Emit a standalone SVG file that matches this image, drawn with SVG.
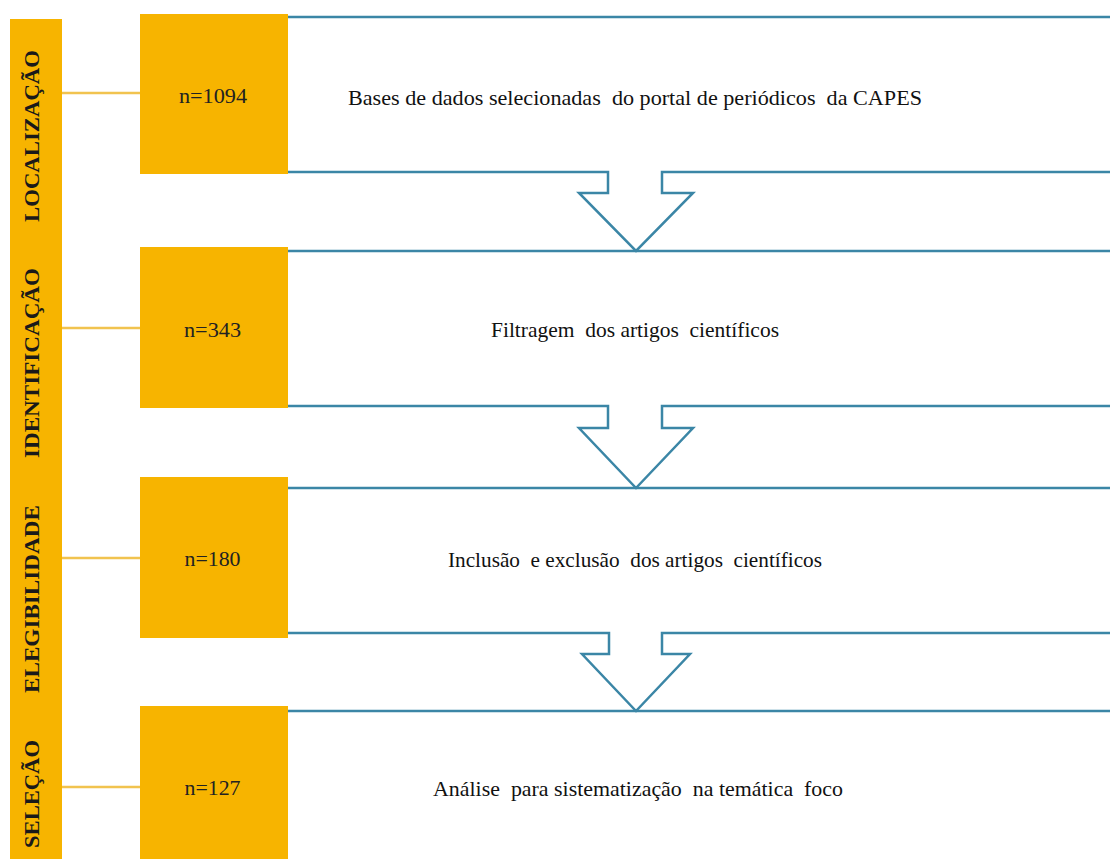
<svg xmlns="http://www.w3.org/2000/svg" width="1110" height="859" viewBox="0 0 1110 859">
<style>
.bar{fill:#F7B400}
.box{fill:#F7B400}
.link{stroke:#F1C34F;stroke-width:2.5;fill:none}
.blue{stroke:#3B86A6;stroke-width:2.5;fill:none;stroke-linejoin:miter}
.phase{font-family:"Liberation Serif","Times New Roman",serif;font-weight:bold;font-size:22px;fill:#1a1a1a;text-anchor:middle}
.num{font-family:"Liberation Serif","Times New Roman",serif;font-size:21px;fill:#222;text-anchor:middle}
.desc{font-family:"Liberation Serif","Times New Roman",serif;font-size:21px;fill:#111}
</style>
<rect width="1110" height="859" fill="#ffffff"/>
<g id="phase-bar">
<rect class="bar" x="10" y="19" width="52" height="840"/>
<text class="phase" transform="translate(38.5,136) rotate(-90)" textLength="172" lengthAdjust="spacingAndGlyphs">LOCALIZAÇÃO</text>
<text class="phase" transform="translate(38.5,363) rotate(-90)" textLength="190" lengthAdjust="spacingAndGlyphs">IDENTIFICAÇÃO</text>
<text class="phase" transform="translate(38.5,599) rotate(-90)" textLength="188" lengthAdjust="spacingAndGlyphs">ELEGIBILIDADE</text>
<text class="phase" transform="translate(38.5,794) rotate(-90)" textLength="108" lengthAdjust="spacingAndGlyphs">SELEÇÃO</text>
</g>
<g id="connectors">
<line class="link" x1="62" y1="93" x2="140" y2="93"/>
<line class="link" x1="62" y1="328" x2="140" y2="328"/>
<line class="link" x1="62" y1="558" x2="140" y2="558"/>
<line class="link" x1="62" y1="787" x2="140" y2="787"/>
<line class="blue" x1="288" y1="17" x2="1110" y2="17"/>
<path class="blue" d="M288,172 H608 V193 H579 L636,251 L693,193 H662 V172 H1110"/>
<line class="blue" x1="288" y1="251" x2="1110" y2="251"/>
<path class="blue" d="M288,406 H608 V428 H579 L636,488 L693,428 H662 V406 H1110"/>
<line class="blue" x1="288" y1="488" x2="1110" y2="488"/>
<path class="blue" d="M288,633 H609 V654 H582 L636,711 L690,654 H662 V633 H1110"/>
<line class="blue" x1="288" y1="711" x2="1110" y2="711"/>
</g>
<g id="box-1094">
<rect class="box" x="140" y="14" width="148" height="160"/>
<text class="num" x="213" y="103" textLength="68" lengthAdjust="spacingAndGlyphs">n=1094</text>
</g>
<g id="box-343">
<rect class="box" x="140" y="247" width="148" height="161"/>
<text class="num" x="212.5" y="337" textLength="57" lengthAdjust="spacingAndGlyphs">n=343</text>
</g>
<g id="box-180">
<rect class="box" x="140" y="477" width="148" height="161"/>
<text class="num" x="212.5" y="566" textLength="56" lengthAdjust="spacingAndGlyphs">n=180</text>
</g>
<g id="box-127">
<rect class="box" x="140" y="706" width="148" height="153"/>
<text class="num" x="212.5" y="795" textLength="56" lengthAdjust="spacingAndGlyphs">n=127</text>
</g>
<g id="stage-1">
<text class="desc" x="348" y="105" xml:space="preserve" textLength="574" lengthAdjust="spacingAndGlyphs">Bases de dados selecionadas  do portal de periódicos  da CAPES</text>
</g>
<g id="stage-2">
<text class="desc" x="491" y="337" xml:space="preserve" textLength="288" lengthAdjust="spacingAndGlyphs">Filtragem  dos artigos  científicos</text>
</g>
<g id="stage-3">
<text class="desc" x="448" y="567" xml:space="preserve" textLength="374" lengthAdjust="spacingAndGlyphs">Inclusão  e exclusão  dos artigos  científicos</text>
</g>
<g id="stage-4">
<text class="desc" x="433" y="796" xml:space="preserve" textLength="410" lengthAdjust="spacingAndGlyphs">Análise  para sistematização  na temática  foco</text>
</g>
</svg>
